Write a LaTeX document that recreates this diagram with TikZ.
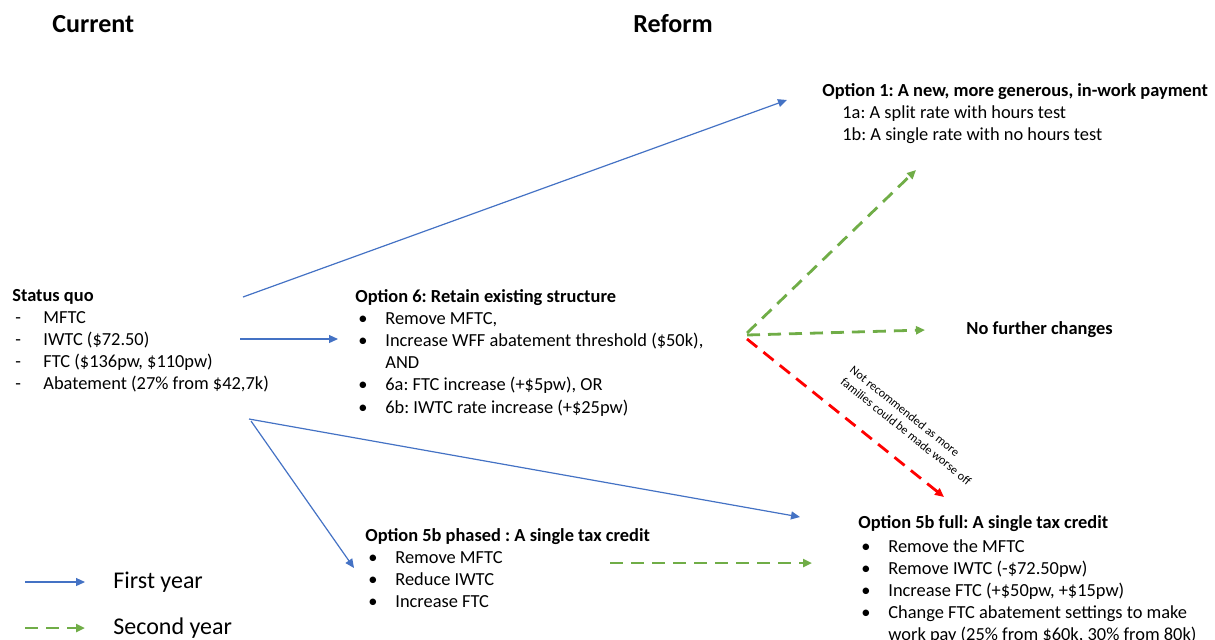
\documentclass[tikz,border=0pt]{standalone}
\usepackage{fontspec}
\setmainfont{Carlito}
\usepackage{xcolor}
\usetikzlibrary{arrows.meta, positioning}

\definecolor{firstyr}{RGB}{68,114,196}
\definecolor{secondyr}{RGB}{112,173,71}
\definecolor{notrec}{RGB}{255,0,0}

\newcommand{\bitem}{\makebox[15pt][l]{\hspace{1.5pt}\textbullet}}
\newcommand{\ditem}{\makebox[15.5pt][l]{\hspace{1.5pt}-}}
\frenchspacing

\begin{document}
\begin{tikzpicture}[x=0.5pt, y=-0.5pt, >={Triangle[length=4.5pt,width=4pt]},
        colhead/.style={font=\fontsize{13}{15}\selectfont\bfseries, inner sep=0, anchor=west},
        block/.style={font=\fontsize{9.2}{11}\selectfont, align=left, inner sep=0, anchor=north west},
        legtext/.style={font=\fontsize{12}{14}\selectfont, inner sep=0, anchor=west},
        first/.style={->, draw=firstyr, line width=0.6pt},
        second/.style={->, draw=secondyr, line width=1.4pt, dash pattern=on 6.5pt off 4pt},
        worse/.style={->, draw=notrec, line width=1.4pt, dash pattern=on 6.5pt off 4pt}
    ]
        \useasboundingbox (0,0) rectangle (1215,639);

        % Column headings
        \node [colhead] (cur) at (52,24) {Current};
        \node [colhead] (ref) at (633,24) {Reform};

        % Nodes
        \node [block] (sq) at (12,289) {\textbf{Status quo}\\
            \ditem MFTC\\
            \ditem IWTC (\$72.50)\\
            \ditem FTC (\$136pw, \$110pw)\\
            \ditem Abatement (27\% from \$42,7k)};
        \node [block] (o6) at (355,289) {\textbf{Option 6: Retain existing structure}\\
            \bitem Remove MFTC,\\
            \bitem Increase WFF abatement threshold (\$50k),\\
            \hspace*{15pt}AND\\
            \bitem 6a: FTC increase (+\$5pw), OR\\[0.5pt]
            \bitem 6b: IWTC rate increase (+\$25pw)};
        \node [block] (o1) at (822,83) {\textbf{Option 1: A new, more generous, in-work payment}\\
            \hspace*{10pt}1a: A split rate with hours test\\
            \hspace*{10pt}1b: A single rate with no hours test};
        \node [block, anchor=west, font=\fontsize{9.2}{11}\selectfont\bfseries] (nfc) at (966,330) {No further changes};
        \node [block] (o5p) at (365,528) {\textbf{Option 5b phased : A single tax credit}\\
            \bitem Remove MFTC\\
            \bitem Reduce IWTC\\
            \bitem Increase FTC};
        \node [block] (o5f) at (858,515) {\textbf{Option 5b full: A single tax credit}\\[1pt]
            \bitem Remove the MFTC\\
            \bitem Remove IWTC (-\$72.50pw)\\
            \bitem Increase FTC (+\$50pw, +\$15pw)\\
            \bitem Change FTC abatement settings to make\\
            \hspace*{15pt}work pay (25\% from \$60k, 30\% from 80k)};

        % Connector ends
        \coordinate (sqTop) at (243,297);
        \coordinate (sqMid) at (240,339);
        \coordinate (sqLow) at (249,419);
        \coordinate (sqLow2) at (251,421);
        \coordinate (o1In) at (787,100);
        \coordinate (o6In) at (338,339);
        \coordinate (o5fIn) at (800,517);
        \coordinate (o5pIn) at (354,568);
        \coordinate (o6Out) at (747,333);
        \coordinate (o1In2) at (916,170);
        \coordinate (nfcIn) at (925,330);
        \coordinate (o5fIn2) at (944,497);
        \coordinate (o5pOut) at (610,563);
        \coordinate (o5fIn3) at (812,563);

        % Connectors
        \draw[first] (sqTop) -- (o1In);
        \draw[first] (sqMid) -- (o6In);
        \draw[first] (sqLow) -- (o5fIn);
        \draw[first] (sqLow2) -- (o5pIn);
        \draw[second] (o6Out) -- (o1In2);
        \draw[second] ([yshift=-1pt]o6Out) -- (nfcIn);
        \draw[worse] ([yshift=-3pt]o6Out) -- node[sloped, pos=0.72, above=11pt, inner sep=0, align=left,
            font=\fontsize{6.1}{7.4}\selectfont] (nrlab) {Not recommended as more\\families could be made worse off} (o5fIn2);
        \draw[second] (o5pOut) -- (o5fIn3);

        % Legend
        \coordinate (lgA) at (25,582);
        \coordinate (lgB) at (85,582);
        \coordinate (lgC) at (25,628);
        \coordinate (lgD) at (85,628);
        \draw[first] (lgA) -- (lgB);
        \draw[second] (lgC) -- (lgD);
        \node [legtext] (lg1) at (113,582) {First year};
        \node [legtext] (lg2) at (113,628) {Second year};
    \end{tikzpicture}
\end{document}
